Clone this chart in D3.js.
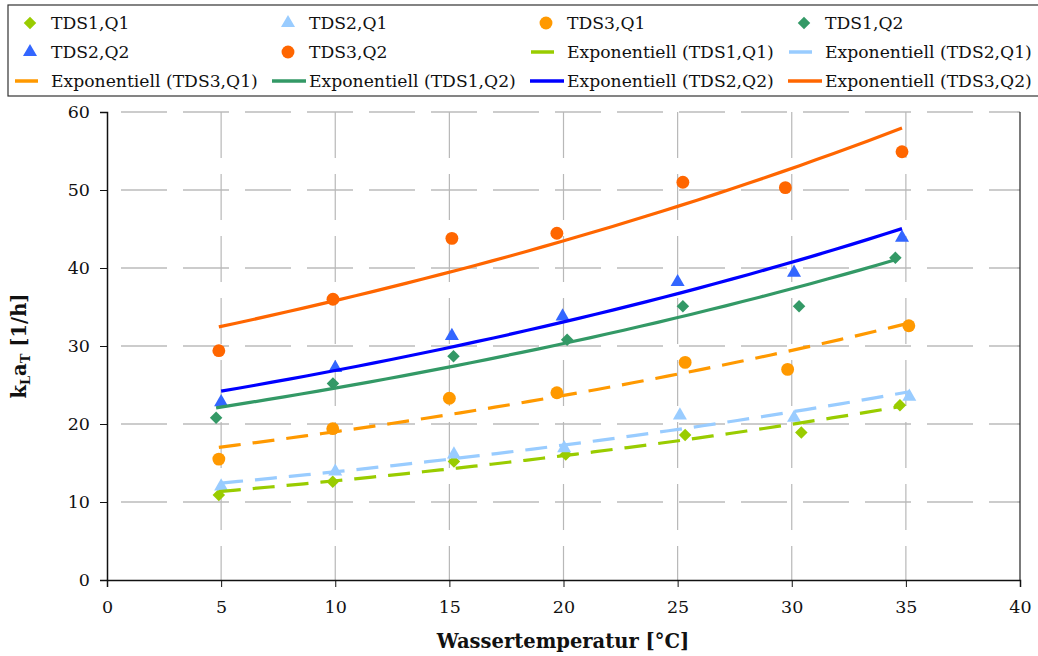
<!DOCTYPE html>
<html><head><meta charset="utf-8">
<script src="https://cdn.jsdelivr.net/npm/d3@7"></script>
<style>body{margin:0;background:#fff}svg{display:block}text{font-family:"DejaVu Serif",serif;fill:#111}</style>
</head><body><svg id="c" width="1038" height="656"></svg>
<script>
// ---- data ----
const seriesNames = ["TDS1,Q1","TDS2,Q1","TDS3,Q1","TDS1,Q2","TDS2,Q2","TDS3,Q2"];
const tds1q1_x = [4.9, 9.89, 15.2, 20.1, 25.33, 30.42, 34.74];
const tds1q1_y = [10.9, 12.6, 15.2, 16.1, 18.6, 18.9, 22.4];
const tds2q1_x = [5.0, 10.0, 15.2, 20.03, 25.1, 30.1, 35.15];
const tds2q1_y = [12.0, 13.9, 16.1, 16.9, 21.1, 20.8, 23.5];
const tds3q1_x = [4.9, 9.89, 15.0, 19.71, 25.33, 29.82, 35.13];
const tds3q1_y = [15.5, 19.4, 23.3, 24.0, 27.9, 27.0, 32.6];
const tds1q2_x = [4.78, 9.9, 15.18, 20.16, 25.23, 30.32, 34.54];
const tds1q2_y = [20.8, 25.2, 28.7, 30.8, 35.1, 35.1, 41.3];
const tds2q2_x = [5.0, 10.0, 15.11, 19.96, 25.0, 30.1, 34.83];
const tds2q2_y = [22.8, 27.2, 31.3, 33.8, 38.2, 39.4, 43.9];
const tds3q2_x = [4.9, 9.9, 15.11, 19.71, 25.23, 29.72, 34.83];
const tds3q2_y = [29.4, 36.0, 43.8, 44.45, 51.0, 50.3, 54.9];
const xTicks = [0,5,10,15,20,25,30,35,40];
const yTicks = [0,10,20,30,40,50,60];
const trendPrefix = "Exponentiell";
const xTitle = "Wassertemperatur [°C]";

// ---- styles ----
const styles = [
  {mc:"#99cc00", lc:"#99cc00", sym:"diamond", dash:"22,12"},
  {mc:"#99ccff", lc:"#99ccff", sym:"triangle", dash:"22,12"},
  {mc:"#ff9900", lc:"#ff9900", sym:"circle", dash:"22,12"},
  {mc:"#339966", lc:"#339966", sym:"diamond", dash:null},
  {mc:"#3366ff", lc:"#0000ff", sym:"triangle", dash:null},
  {mc:"#ff6600", lc:"#ff6600", sym:"circle", dash:null}
];
const xs=[tds1q1_x,tds2q1_x,tds3q1_x,tds1q2_x,tds2q2_x,tds3q2_x];
const ys=[tds1q1_y,tds2q1_y,tds3q1_y,tds1q2_y,tds2q2_y,tds3q2_y];
const series = seriesNames.map((n,i)=>({name:n, pts:xs[i].map((x,j)=>({x, y:ys[i][j]})), st:styles[i]}));

const svg=d3.select("#c");
const x=d3.scaleLinear([0,40],[107,1020]);
const y=d3.scaleLinear([0,60],[580,112]);

// grid
const g=svg.append("g");
g.selectAll(".hg").data(yTicks.filter(t=>t>0)).join("line")
  .attr("x1",x(0)).attr("x2",x(40)).attr("y1",d=>y(d)).attr("y2",d=>y(d))
  .attr("stroke","#9a9a9a").attr("stroke-width",1.2).attr("stroke-dasharray","46,16").attr("stroke-dashoffset",-14);
g.selectAll(".vg").data(xTicks.filter(t=>t>0&&t<40)).join("line")
  .attr("x1",d=>x(d)).attr("x2",d=>x(d)).attr("y1",y(60)).attr("y2",y(0))
  .attr("stroke","#b8b8b8").attr("stroke-width",1.2).attr("stroke-dasharray","46,16");
// right border
svg.append("line").attr("x1",x(40)).attr("x2",x(40)).attr("y1",y(60)).attr("y2",y(0)).attr("stroke","#222").attr("stroke-width",1.2);

// axes
const xa=svg.append("g").attr("transform",`translate(0,${y(0)})`)
  .call(d3.axisBottom(x).tickValues(xTicks).tickSize(7).tickPadding(14).tickFormat(d3.format("d")));
const ya=svg.append("g").attr("transform",`translate(${x(0)},0)`)
  .call(d3.axisLeft(y).tickValues(yTicks).tickSize(7).tickPadding(10).tickFormat(d3.format("d")));
[xa,ya].forEach(a=>{a.select(".domain").attr("stroke","#111").attr("stroke-width",1.5);
  a.selectAll(".tick line").attr("stroke","#111");
  a.selectAll("text").attr("font-family","DejaVu Serif").attr("font-size",17.5).attr("fill","#111");});

// trend lines (exponential least squares on ln y)
function expFit(pts){const mx=d3.mean(pts,p=>p.x);const ml=d3.mean(pts,p=>Math.log(p.y));
  let sxy=0,sxx=0;pts.forEach(p=>{sxy+=(p.x-mx)*(Math.log(p.y)-ml);sxx+=(p.x-mx)**2;});
  const b=sxy/sxx,a=Math.exp(ml-b*mx);return {a,b};}
const line=d3.line().x(d=>x(d.x)).y(d=>y(d.y));
series.forEach(s=>{
  const f=expFit(s.pts);const [x0,x1]=d3.extent(s.pts,p=>p.x);
  s.trend=d3.range(0,41).map(i=>{const xx=x0+(x1-x0)*i/40;return {x:xx,y:f.a*Math.exp(f.b*xx)};});
});
function symPath(sym){
  if(sym==="diamond") return d3.symbol(d3.symbolSquare,78)();
  if(sym==="triangle") return d3.symbol(d3.symbolTriangle,85)();
  return d3.symbol(d3.symbolCircle,130)();
}
function drawMarker(sel,s,cx,cy){
  sel.append("path").attr("d",symPath(s.st.sym)).attr("fill",s.st.mc)
    .attr("transform",`translate(${cx},${cy})`+(s.st.sym==="diamond"?" rotate(45)":""));
}
const mg=svg.append("g");
series.forEach(s=>s.pts.forEach(p=>drawMarker(mg,s,x(p.x),y(p.y))));
const lg=svg.append("g");
series.forEach(s=>{
  lg.append("path").attr("d",line(s.trend)).attr("fill","none").attr("stroke",s.st.lc)
   .attr("stroke-width",3.2).attr("stroke-dasharray",s.st.dash);
});

// axis titles
svg.append("text").attr("x",563).attr("y",648).attr("text-anchor","middle")
  .attr("font-weight","bold").attr("font-size",19.5).text(xTitle);
const yt=svg.append("text").attr("transform","translate(26,346) rotate(-90)").attr("text-anchor","middle")
  .attr("font-weight","bold").attr("font-size",19.5);
yt.append("tspan").text("k");
yt.append("tspan").attr("font-size",13).attr("dy",4).text("L");
yt.append("tspan").attr("dy",-4).text("a");
yt.append("tspan").attr("font-size",13).attr("dy",4).text("T");
yt.append("tspan").attr("dy",-4).text(" [1/h]");

// legend
svg.append("rect").attr("x",8).attr("y",5).attr("width",1040).attr("height",91)
  .attr("fill","#fff").attr("stroke","#333").attr("stroke-width",1.2);
const colX=[51,309,567,825];
const rowY=[23,52,81];
const items=[];
series.forEach(s=>items.push({s,type:"marker",label:s.name}));
series.forEach(s=>items.push({s,type:"line",label:`${trendPrefix} (${s.name})`}));
items.forEach((it,i)=>{
  const col=i%4,row=Math.floor(i/4);const tx=colX[col],ty=rowY[row];
  const lgI=svg.append("g");
  if(it.type==="marker") drawMarker(lgI,it.s,tx-21,ty);
  else {
    const solid=!it.s.st.dash;
    const x1=solid?tx-37:tx-36, x2=solid?tx-3:tx-13;
    lgI.append("line").attr("x1",x1).attr("x2",x2).attr("y1",ty).attr("y2",ty)
      .attr("stroke",it.s.st.lc).attr("stroke-width",3.5);
  }
  lgI.append("text").attr("x",tx).attr("y",ty+6).attr("font-size",17.2).text(it.label);
});
</script></body></html>
